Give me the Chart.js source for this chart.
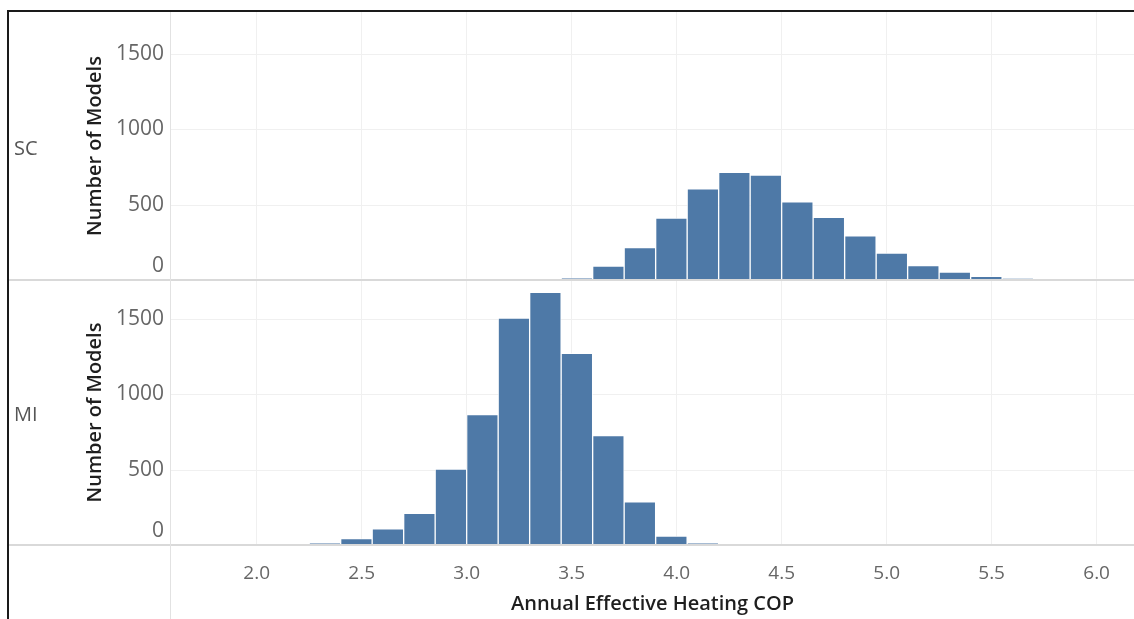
<!DOCTYPE html>
<html>
<head>
<meta charset="utf-8">
<script src="https://cdn.jsdelivr.net/npm/chart.js@4.4.1/dist/chart.umd.min.js"></script>
<style>
  html, body { margin: 0; padding: 0; background: #fff; }
  #wrap { position: relative; width: 1134px; height: 619px; }
</style>
</head>
<body>
<div id="wrap"><canvas id="chart-cop"></canvas></div>
<script>
// histogram bins (COP), width 0.15
const binWidth = 0.15;
const scBinStarts = [3.15, 3.3, 3.45, 3.6, 3.75, 3.9, 4.05, 4.2, 4.35, 4.5, 4.65, 4.8, 4.95, 5.1, 5.25, 5.4, 5.55, 5.7];
const scCounts = [2, 5, 15, 93, 216, 412, 605, 715, 697, 520, 416, 294, 178, 95, 52, 25, 11, 2];
const miBinStarts = [2.1, 2.25, 2.4, 2.55, 2.7, 2.85, 3.0, 3.15, 3.3, 3.45, 3.6, 3.75, 3.9, 4.05];
const miCounts = [2, 15, 42, 107, 211, 505, 867, 1507, 1678, 1273, 727, 287, 60, 15];
const yTickValues = [0, 500, 1000, 1500];
const panels = [{ id: "ySC", name: "SC" }, { id: "yMI", name: "MI" }];

const BAR_COLOR = "#4e79a7";
const GRID_COLOR = "#f0f0f0";
const FONT = "'Open Sans', 'Noto Sans', sans-serif";

function toPoints(starts, counts) {
  return starts.map((start, i) => ({ x: start + binWidth / 2, y: counts[i] }));
}

function yAxis(weight, max) {
  return {
    type: "linear",
    position: "left",
    stack: "panels",
    stackWeight: weight,
    min: 0,
    max: max,
    border: { display: false },
    grid: { display: false },
    ticks: { display: false, stepSize: 500, includeBounds: false },
    title: {
      display: true,
      text: "Number of Models",
      color: "#1e1e1e",
      font: { family: FONT, size: 20, weight: "600" },
      padding: { top: 83, bottom: 0 }
    },
    afterFit: scale => { scale.width = 171; }
  };
}

const panelPlugin = {
  id: "panelDecor",
  beforeDatasetsDraw(chart) {
    const ctx = chart.ctx;
    const area = chart.chartArea;
    ctx.save();
    ctx.fillStyle = GRID_COLOR;
    panels.forEach(panel => {
      const scale = chart.scales[panel.id];
      yTickValues.filter(v => v > 0).forEach(value => {
        const y = Math.round(scale.getPixelForValue(value));
        ctx.fillRect(area.left, y, area.right - area.left, 1);
      });
    });
    ctx.restore();
  },
  afterDraw(chart) {
    const ctx = chart.ctx;
    const area = chart.chartArea;
    ctx.save();

    // panel separators and vertical header line
    ctx.fillStyle = "#d9d9d9";
    panels.forEach(panel => {
      const base = chart.scales[panel.id].getPixelForValue(0);
      ctx.fillRect(9, Math.round(base) - 1, chart.width - 9, 2);
    });
    ctx.fillStyle = "#e2e2e2";
    ctx.fillRect(Math.round(area.left) - 1, area.top, 1, chart.height - area.top);

    // y tick labels, zero label lifted above the baseline like the original
    ctx.fillStyle = "#666";
    ctx.font = "21px " + FONT;
    ctx.textAlign = "right";
    ctx.textBaseline = "middle";
    panels.forEach(panel => {
      const scale = chart.scales[panel.id];
      yTickValues.forEach(value => {
        let y = scale.getPixelForValue(value);
        if (value === 0) y -= 13.5;
        ctx.fillText(String(value), 164, y);
      });
    });

    // row headers
    ctx.fillStyle = "#555";
    ctx.font = "20px " + FONT;
    ctx.textAlign = "left";
    panels.forEach(panel => {
      const scale = chart.scales[panel.id];
      ctx.fillText(panel.name, 14, (scale.top + scale.bottom) / 2 + 3);
    });

    // outer frame
    ctx.fillStyle = "#1a1a1a";
    ctx.fillRect(7, 10, 2, chart.height - 10);
    ctx.fillRect(7, 10, chart.width - 7, 2);
    ctx.restore();
  }
};

new Chart(document.getElementById("chart-cop").getContext("2d"), {
  type: "bar",
  data: {
    datasets: [
      {
        label: "MI",
        data: toPoints(miBinStarts, miCounts),
        yAxisID: "yMI",
        backgroundColor: BAR_COLOR,
        borderColor: "rgba(255,255,255,0.65)",
        borderWidth: 1,
        grouped: false,
        barPercentage: 1,
        categoryPercentage: 1
      },
      {
        label: "SC",
        data: toPoints(scBinStarts, scCounts),
        yAxisID: "ySC",
        backgroundColor: BAR_COLOR,
        borderColor: "rgba(255,255,255,0.65)",
        borderWidth: 1,
        grouped: false,
        barPercentage: 1,
        categoryPercentage: 1
      }
    ]
  },
  options: {
    responsive: true,
    maintainAspectRatio: false,
    animation: false,
    layout: { padding: { top: 12, left: 0, right: 0, bottom: 0 } },
    plugins: { legend: { display: false }, tooltip: { enabled: false } },
    scales: {
      x: {
        type: "linear",
        min: 1.592,
        max: 6.178,
        offset: false,
        border: { display: false },
        grid: { drawTicks: false, offset: false, color: GRID_COLOR },
        ticks: {
          stepSize: 0.5,
          includeBounds: false,
          padding: 17,
          color: "#666",
          font: { family: FONT, size: 19 },
          callback: value => value.toFixed(1)
        },
        title: {
          display: true,
          text: "Annual Effective Heating COP",
          color: "#1e1e1e",
          font: { family: FONT, size: 20, weight: "600" },
          padding: { top: 0, bottom: 3 }
        },
        afterFit: scale => { scale.height = 74; }
      },
      yMI: yAxis(265, 1760),
      ySC: yAxis(268, 1780)
    }
  },
  plugins: [panelPlugin]
});
</script>
</body>
</html>
